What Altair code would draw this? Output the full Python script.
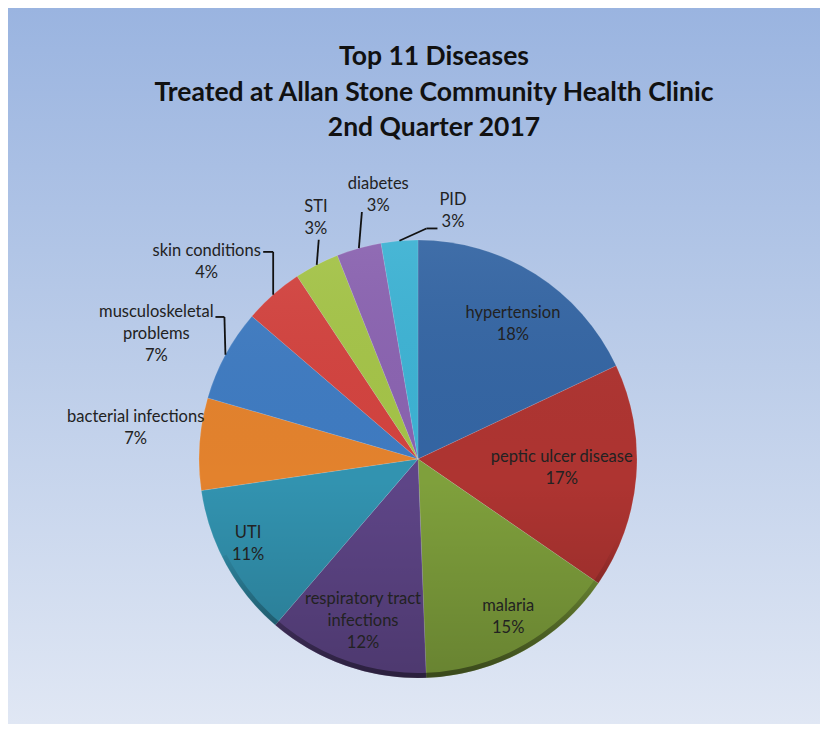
import altair as alt
import pandas as pd

# ---------------- data ----------------
CATEGORIES = [
    "hypertension", "peptic ulcer disease", "malaria",
    "respiratory tract infections", "UTI", "bacterial infections",
    "musculoskeletal problems", "skin conditions", "STI", "diabetes", "PID",
]
SHARES = [18.0, 16.6, 14.8, 11.9, 11.4, 6.8, 6.8, 4.4, 3.3, 3.3, 2.7]
LABEL_LINES = [
    ["hypertension"], ["peptic ulcer disease"], ["malaria"],
    ["respiratory tract", "infections"], ["UTI"], ["bacterial infections"],
    ["musculoskeletal", "problems"], ["skin conditions"], ["STI"],
    ["diabetes"], ["PID"],
]
TITLE_LINES = [
    "Top 11 Diseases",
    "Treated at Allan Stone Community Health Clinic",
    "2nd Quarter 2017",
]

# ---------------- style / layout ----------------
COLORS = ["#3465a3", "#ae3431", "#7fa03c", "#5e4587", "#3293b0", "#e3822d",
          "#3f7bc1", "#d2433f", "#a4c348", "#8a63b0", "#3db2d3"]
W, H = 812, 716
CX, CY, R = 410, 451, 219
LINE_H = 22
LABEL_R = [165, 144, 182, 171, 190, 284, 290, 289, 262, 267, 250]
LABEL_DTH = [2.7, -1.1, -0.9, -0.5, 2.2, 2.3, -2.9, -5.6, 4.6, 7.1, 12.9]
HAS_LEADER = [0, 0, 0, 0, 0, 0, 1, 1, 1, 1, 1]
LEAD_LEAN = [0, 0, 0, 0, 0, 0, -1, 0, 2, 3, 27]
LEAD_EDY = [0, 0, 0, 0, 0, 0, -17, -10, 22, 17, 17]
LEAD_HX = [0, 0, 0, 0, 0, 0, -9, -10, 0, 0, 11]

df = pd.DataFrame({
    "idx": list(range(len(CATEGORIES))),
    "category": CATEGORIES,
    "value": SHARES,
    "lines": [l + [f"{round(v)}%"] for l, v in zip(LABEL_LINES, SHARES)],
    "lr": LABEL_R,
    "dth": LABEL_DTH,
    "lead": HAS_LEADER,
    "lean": LEAD_LEAN,
    "edy": LEAD_EDY,
    "hx": LEAD_HX,
})

one = pd.DataFrame({"k": [0]})
title_df = pd.DataFrame({"t": [TITLE_LINES]})

bg = alt.Chart(one).mark_rect(
    fill=alt.LinearGradient(
        gradient="linear",
        stops=[alt.GradientStop(color="#9ab4e0", offset=0),
               alt.GradientStop(color="#bccde9", offset=0.5),
               alt.GradientStop(color="#e0e7f4", offset=1)],
        x1=0, x2=0, y1=0, y2=1,
    )
).encode(x=alt.value(0), x2=alt.value(W), y=alt.value(0), y2=alt.value(H))

pie = alt.Chart(df).mark_arc(radius=R, stroke="#ffffff", strokeWidth=0.3, strokeOpacity=0.4).encode(
    theta=alt.Theta("value:Q", stack=True),
    color=alt.Color("category:N", scale=alt.Scale(domain=CATEGORIES, range=COLORS), legend=None),
    order=alt.Order("idx:Q", sort="ascending"),
    x=alt.value(CX), y=alt.value(CY),
)

shade = alt.Chart(one).mark_arc(
    radius=R, theta=0, theta2=6.2832,
    fill=alt.LinearGradient(
        gradient="linear",
        stops=[alt.GradientStop(color="rgba(255,255,255,0.06)", offset=0),
               alt.GradientStop(color="rgba(0,0,0,0)", offset=0.55),
               alt.GradientStop(color="rgba(0,0,0,0.18)", offset=1)],
        x1=0, x2=0, y1=0, y2=1,
    ),
).encode(x=alt.value(CX), y=alt.value(CY))

rim = alt.Chart(one).mark_arc(
    radius=R, radius2=R - 5, theta=1.95, theta2=4.25,
    fill=alt.LinearGradient(
        gradient="linear",
        stops=[alt.GradientStop(color="rgba(0,0,0,0)", offset=0),
               alt.GradientStop(color="rgba(0,0,0,0.45)", offset=1)],
        x1=0, x2=0, y1=0, y2=1,
    ),
).encode(x=alt.value(CX), y=alt.value(CY))

base = alt.Chart(df).transform_window(
    cum="sum(value)", sort=[alt.SortField("idx")]
).transform_joinaggregate(
    total="sum(value)"
).transform_calculate(
    mid="(datum.cum - datum.value/2)/datum.total*2*PI"
).transform_calculate(
    la="datum.mid + datum.dth*PI/180",
    ex=f"{CX} + {R}*sin(datum.mid)",
    ey=f"{CY} - {R}*cos(datum.mid)",
).transform_calculate(
    lx=f"{CX} + datum.lr*sin(datum.la)",
    ly=f"{CY} - datum.lr*cos(datum.la)",
).transform_calculate(
    ly0=f"datum.ly - (length(datum.lines) - 1)*{LINE_H}/2",
    p1x="datum.ex + datum.lean",
    p1y="datum.ly + datum.edy",
).transform_calculate(
    p2x="datum.p1x + datum.hx",
)

labels = base.mark_text(
    font="Lato", fontSize=16.5, lineHeight=LINE_H, color="#222222",
    align="center", baseline="middle",
).encode(
    x=alt.X("lx:Q", scale=None, axis=None),
    y=alt.Y("ly0:Q", scale=None, axis=None),
    text="lines",
)

lead1 = base.transform_filter("datum.lead == 1").mark_rule(color="#111111", strokeWidth=1.8).encode(
    x=alt.X("ex:Q", scale=None, axis=None), y=alt.Y("ey:Q", scale=None, axis=None),
    x2="p1x:Q", y2="p1y:Q",
)
lead2 = base.transform_filter("datum.lead == 1").mark_rule(color="#111111", strokeWidth=1.8).encode(
    x=alt.X("p1x:Q", scale=None, axis=None), y=alt.Y("p1y:Q", scale=None, axis=None),
    x2="p2x:Q", y2="p1y:Q",
)

title = alt.Chart(title_df).mark_text(
    font="Lato", fontSize=26.5, fontWeight="bold", lineHeight=35.5, color="#111111",
    align="center", baseline="middle",
).encode(x=alt.value(426), y=alt.value(49), text="t")

chart = alt.layer(bg, pie, shade, rim, lead1, lead2, labels, title).properties(
    width=W, height=H, padding=0, autosize="none", background="white",
).configure_view(strokeWidth=0)

chart.save("out.html", embed_options={"renderer": "svg", "actions": False})
